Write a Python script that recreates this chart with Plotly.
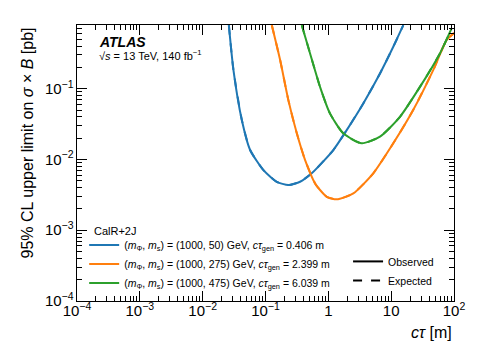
import plotly.graph_objects as go

# observed limits (ctau in m, limit in pb)
ct_50 = [0.0261, 0.0309, 0.042, 0.0569, 0.0927, 0.151, 0.231, 0.355, 0.544, 1.2, 1.96, 3.6, 6.64, 10.8, 15.6]
lim_50 = [0.79, 0.183, 0.036, 0.0136, 0.00708, 0.00484, 0.00435, 0.00484, 0.00637, 0.0136, 0.026, 0.0619, 0.164, 0.391, 0.79]

ct_275 = [0.126, 0.171, 0.231, 0.315, 0.427, 0.615, 0.738, 0.944, 1.36, 2.5, 5.19, 10.8, 22.4, 46.7, 76.2, 100]
lim_275 = [0.79, 0.254, 0.069, 0.0234, 0.0098, 0.00459, 0.0037, 0.00297, 0.00273, 0.00332, 0.00637, 0.0169, 0.0499, 0.183, 0.485, 0.61]

ct_475 = [0.378, 0.512, 0.738, 1.06, 1.73, 3.4, 6.64, 13.8, 28.7, 59.7, 91.6]
lim_475 = [0.79, 0.315, 0.106, 0.0448, 0.0234, 0.0169, 0.021, 0.0401, 0.106, 0.315, 0.711]

labels = [
    "(<i>m</i><sub>Φ</sub>, <i>m</i><sub>s</sub>) = (1000, 50) GeV, <i>cτ</i><sub>gen</sub> = 0.406 m",
    "(<i>m</i><sub>Φ</sub>, <i>m</i><sub>s</sub>) = (1000, 275) GeV, <i>cτ</i><sub>gen</sub> = 2.399 m",
    "(<i>m</i><sub>Φ</sub>, <i>m</i><sub>s</sub>) = (1000, 475) GeV, <i>cτ</i><sub>gen</sub> = 6.039 m",
]
colors = ['#1f77b4', '#ff7f0e', '#2ca02c']

FONT = "Liberation Sans"

fig = go.Figure()

for x, y, name, col in zip([ct_50, ct_275, ct_475], [lim_50, lim_275, lim_475], labels, colors):
    fig.add_trace(go.Scatter(x=x, y=y, mode='lines', name=name,
                             line=dict(color=col, width=2, shape='spline', smoothing=0.6),
                             legend='legend'))
    fig.add_trace(go.Scatter(x=x, y=y, mode='lines', showlegend=False,
                             line=dict(color=col, width=2, dash='dash', shape='spline', smoothing=0.6)))

# observed / expected style legend
fig.add_trace(go.Scatter(x=[None], y=[None], mode='lines', name='Observed',
                         line=dict(color='black', width=2), legend='legend2'))
fig.add_trace(go.Scatter(x=[None], y=[None], mode='lines', name='Expected',
                         line=dict(color='black', width=2, dash='dash'), legend='legend2'))

axis_style = dict(
    type='log', showgrid=False, zeroline=False,
    showline=True, linecolor='black', linewidth=1, mirror='allticks',
    ticks='inside', ticklen=10, tickwidth=1, tickcolor='black',
    dtick=1, exponentformat='power', showexponent='all',
    tickfont=dict(family=FONT, size=12, color='black'),
    minor=dict(ticks='inside', ticklen=5, tickwidth=1, tickcolor='black'),
)

fig.update_xaxes(range=[-4, 2], ticklabelstandoff=-3, **axis_style)
fig.update_yaxes(range=[-4, -0.1], **axis_style)

# the page body has an 8 px margin, so the figure sits at (8, 8)
fig.update_layout(
    template='none',
    width=462, height=343,
    margin=dict(l=69, r=16, t=17, b=50),
    plot_bgcolor='white', paper_bgcolor='white',
    font=dict(family=FONT, color='black'),
    legend=dict(
        x=0.019, y=0.255, xanchor='left', yanchor='top',
        font=dict(size=10.5), bgcolor='rgba(0,0,0,0)', tracegroupgap=0,
    ),
    legend2=dict(
        x=0.719, y=0.196, xanchor='left', yanchor='top',
        font=dict(size=10.5), bgcolor='rgba(0,0,0,0)',
    ),
    annotations=[
        dict(text='<b><i>ATLAS</i></b>', x=0.052, y=0.94, xref='paper', yref='paper',
             xanchor='left', yanchor='middle', showarrow=False, font=dict(size=14)),
        dict(text='√<i>s</i> = 13 TeV, 140 fb<sup>−1</sup>', x=0.052, y=0.89, xref='paper', yref='paper',
             xanchor='left', yanchor='middle', showarrow=False, font=dict(size=11)),
        dict(text='CalR+2J', x=0.04, y=(301 - 231) / 276, xref='paper', yref='paper',
             xanchor='left', yanchor='middle', showarrow=False, font=dict(size=11)),
        dict(text='<i>cτ</i> [m]', x=1.0, y=-0.075, xref='paper', yref='paper',
             xanchor='right', yanchor='top', showarrow=False, font=dict(size=16)),
        dict(text='95% CL upper limit on <i>σ</i> × <i>B</i> [pb]', x=-0.13, y=1.0,
             xref='paper', yref='paper', xanchor='center', yanchor='top', textangle=-90,
             showarrow=False, font=dict(size=16)),
    ],
)

fig.write_html("out.html")
